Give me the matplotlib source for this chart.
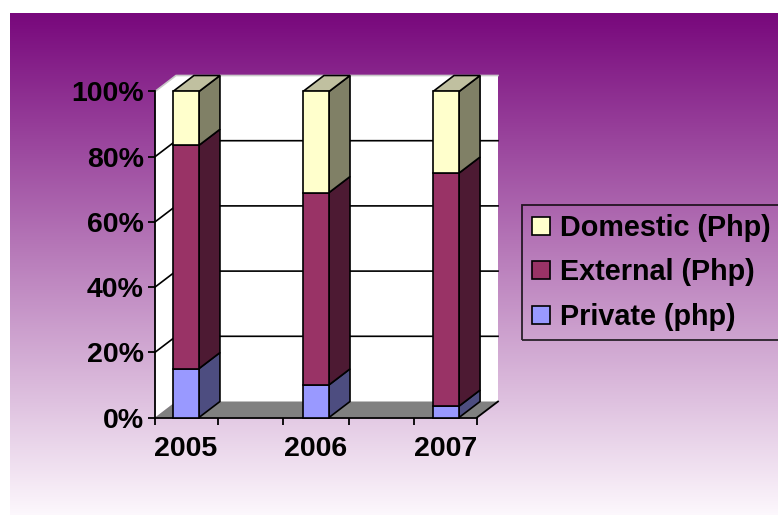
import matplotlib.pyplot as plt
import numpy as np
from matplotlib.patches import Polygon, Rectangle
from matplotlib.lines import Line2D

plt.rcParams['font.family'] = ['Liberation Sans', 'DejaVu Sans']
plt.rcParams['font.weight'] = 'bold'

years = ['2005', '2006', '2007']
private = [15, 10, 3.5]
external = [68.5, 59, 71.5]
domestic = [16.5, 31, 25]
series = [private, external, domestic]
names = ['Private (php)', 'External (Php)', 'Domestic (Php)']
front_colors = ['#9999FF', '#993366', '#FFFFCC']
side_colors = ['#4D4D80', '#4D1A33', '#808066']
top_color = '#C0C0A0'

W, H = 778, 515
fig = plt.figure(figsize=(W / 100, H / 100), dpi=100)

# gradient background (purple -> white)
bg = fig.add_axes([10 / W, 0, (W - 10) / W, (H - 13) / H])
t = np.linspace(0, 1, 256)[:, None, None]
c_top = np.array([0x78, 0x08, 0x7C]) / 255
c_bot = np.array([0.99, 0.97, 0.99])
bg.imshow(c_top * (1 - t) + c_bot * t, aspect='auto', extent=[0, 1, 0, 1], origin='upper')
bg.axis('off')

# main plot area: front plane of the 3d box
ax = fig.add_axes([155 / W, (H - 417.5) / H, 322 / W, 326 / H])
ax.set_xlim(-0.238, 2.238)
ax.set_ylim(0, 100)
ax.patch.set_visible(False)
xl, xr = ax.get_xlim()
DX = 21 / (322 / (xr - xl))   # depth offset, data units
DY = 16 / (326 / 100)

# walls and floor
ax.add_patch(Polygon([(xl, 0), (xl, 100), (xl + DX, 100 + DY), (xl + DX, DY)],
                     fc='white', ec='none', zorder=0.5, clip_on=False))
ax.add_patch(Rectangle((xl + DX, DY), xr - xl, 100, fc='white', ec='none',
                       zorder=0.5, clip_on=False))
for v in range(20, 101, 20):
    col = '#C8C8C8' if v == 100 else 'black'
    ax.plot([xl, xl + DX, xr + DX], [v, v + DY, v + DY], color=col, lw=1.2,
            clip_on=False, zorder=1)
ax.add_patch(Polygon([(xl, 0), (xr, 0), (xr + DX, DY), (xl + DX, DY)],
                     fc='#808080', ec='none', zorder=1.2, clip_on=False))
ax.plot([xr, xr + DX], [0, DY], color='black', lw=1.3, clip_on=False, zorder=1.3)

# stacked 3d bars
x = np.arange(len(years))
w = 0.2
bottom = np.zeros(len(years))
for vals, fc, sc in zip(series, front_colors, side_colors):
    vals = np.array(vals, dtype=float)
    for xi, b, v in zip(x, bottom, vals):
        r = xi + w / 2
        ax.add_patch(Polygon([(r, b), (r + DX, b + DY), (r + DX, b + v + DY), (r, b + v)],
                             fc=sc, ec='black', lw=1.2, zorder=2, clip_on=False))
    ax.bar(x, vals, w, bottom=bottom, color=fc, edgecolor='black', lw=1.2,
           zorder=3, clip_on=False)
    bottom += vals
for xi, top in zip(x, bottom):
    l = xi - w / 2
    ax.add_patch(Polygon([(l, top), (l + w, top), (l + w + DX, top + DY), (l + DX, top + DY)],
                         fc=top_color, ec='black', lw=1.2, zorder=2, clip_on=False))

# axes and ticks
ax.spines['top'].set_visible(False)
ax.spines['right'].set_visible(False)
for s in ['left', 'bottom']:
    ax.spines[s].set_linewidth(1.3)
ax.set_yticks(range(0, 101, 20), [f'{v}%' for v in range(0, 101, 20)])
ax.tick_params(axis='y', length=5, width=1.3, pad=3, labelsize=20.5)
ax.set_xticks(x, years)
ax.set_xticks([xl, 0.25, 0.75, 1.25, 1.75, xr], minor=True)
ax.tick_params(axis='x', which='major', length=0, pad=13, labelsize=20.5)
ax.tick_params(axis='x', which='minor', length=5, width=1.3)

# legend
handles = [Line2D([], [], ls='none', marker='s', ms=13.5, mfc=c, mec='black', mew=1.2)
           for c in front_colors[::-1]]
leg = fig.legend(handles, names[::-1], loc='upper left',
                 bbox_to_anchor=(522 / W, 1 - 205 / H), bbox_transform=fig.transFigure,
                 borderaxespad=0, borderpad=0.3, handlelength=0.7, handletextpad=0.33,
                 labelspacing=0.58, frameon=True, fancybox=False, edgecolor='black',
                 facecolor='none', prop=dict(size=20.7, weight='bold'))
leg.get_frame().set_linewidth(1.3)

fig.savefig('out.png', dpi=100)
